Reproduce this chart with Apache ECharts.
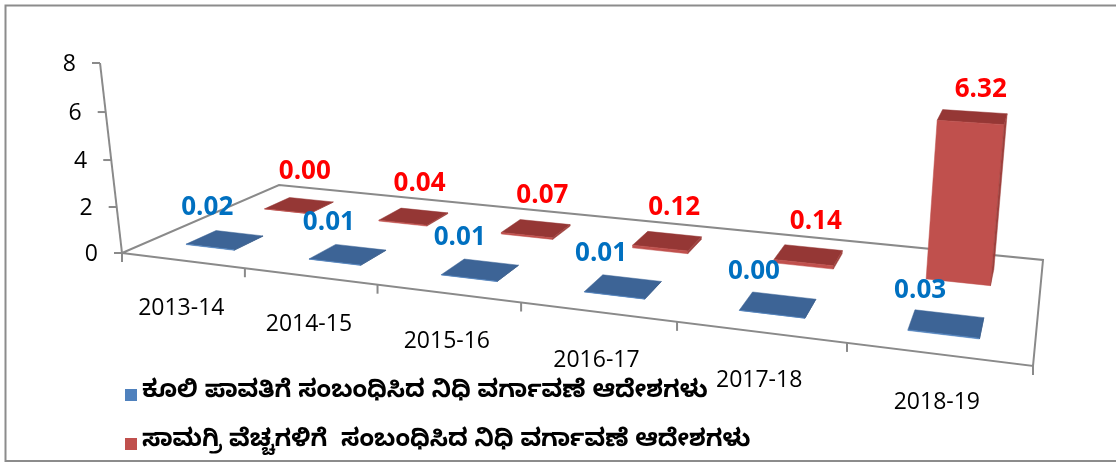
<!DOCTYPE html>
<html>
<head>
<meta charset="utf-8">
<script src="https://cdn.jsdelivr.net/npm/echarts@6/dist/echarts.min.js"></script>
<style>
    html, body { margin: 0; padding: 0; background: #fff; }
    #chart { width: 1116px; height: 463px; }
</style>
</head>
<body>
<div id="chart"></div>
<script>
const categories = ['2013-14', '2014-15', '2015-16', '2016-17', '2017-18', '2018-19'];
const wageOrders = [0.02, 0.01, 0.01, 0.01, 0.00, 0.03];
const materialOrders = [0.00, 0.04, 0.07, 0.12, 0.14, 6.32];
const valueTicks = [0, 2, 4, 6, 8];
const seriesNames = [
    'ಕೂಲಿ ಪಾವತಿಗೆ ಸಂಬಂಧಿಸಿದ ನಿಧಿ ವರ್ಗಾವಣೆ ಆದೇಶಗಳು',
    'ಸಾಮಗ್ರಿ ವೆಚ್ಚಗಳಿಗೆ  ಸಂಬಂಧಿಸಿದ ನಿಧಿ ವರ್ಗಾವಣೆ ಆದೇಶಗಳು'
];

// --- fake 3D view: floor quad on screen (front-left, front-right, back-right, back-left)
const FLOOR = [[122, 253], [1033, 366], [1043, 260], [279, 185]];
const DEPTH = 2;              // floor depth in world units, one unit per series row
const VERT_VP = [625, 4600];  // vanishing point of the vertical edges
const AXIS_TOP_Y = 63;        // screen y of the top of the value axis
const VALUE_MAX = 8;
const GRAY = '#8a8a8a';
const TEXT_FONT = '"Open Sans", "Liberation Sans", sans-serif';

function makeHomography(q) {
    const sx = q[0][0] - q[1][0] + q[2][0] - q[3][0];
    const sy = q[0][1] - q[1][1] + q[2][1] - q[3][1];
    const dx1 = q[1][0] - q[2][0], dx2 = q[3][0] - q[2][0];
    const dy1 = q[1][1] - q[2][1], dy2 = q[3][1] - q[2][1];
    const det = dx1 * dy2 - dx2 * dy1;
    const g = (sx * dy2 - dx2 * sy) / det;
    const h = (dx1 * sy - sx * dy1) / det;
    return {
        a: q[1][0] - q[0][0] + g * q[1][0],
        b: q[3][0] - q[0][0] + h * q[3][0],
        c: q[0][0],
        d: q[1][1] - q[0][1] + g * q[1][1],
        e: q[3][1] - q[0][1] + h * q[3][1],
        f: q[0][1],
        g: g,
        h: h
    };
}

const H = makeHomography(FLOOR);
const LAMBDA = (AXIS_TOP_Y - FLOOR[0][1]) / (VALUE_MAX * (VERT_VP[1] - AXIS_TOP_Y));

// world: x along categories (0..n), y depth (0 front .. DEPTH back), z value
function project(x, y, z) {
    const u = x / categories.length;
    const v = y / DEPTH;
    const k = z * LAMBDA;
    const w = H.g * u + H.h * v + 1 + k;
    return [
        (H.a * u + H.b * v + H.c + k * VERT_VP[0]) / w,
        (H.d * u + H.e * v + H.f + k * VERT_VP[1]) / w
    ];
}

function signedArea(pts) {
    let s = 0;
    for (let i = 0; i < pts.length; i++) {
        const p = pts[i], q = pts[(i + 1) % pts.length];
        s += p[0] * q[1] - q[0] * p[1];
    }
    return s;
}

// read world position of a data item through the (hidden) cartesian scales
function toWorld(api, idx, val) {
    const base = api.coord([idx, 0]);
    const top = api.coord([idx, val]);
    const band = api.size([1, 0])[0];
    const unit = api.size([0, 1])[1];
    return { x: base[0] / band, z: (base[1] - top[1]) / unit };
}

function barRenderer(row, colors, labelShift, labelLift) {
    return function (params, api) {
        const w = toWorld(api, api.value(0), api.value(1));
        const x0 = w.x - 0.2, x1 = w.x + 0.2;
        const y0 = row - 0.18, y1 = row + 0.18;
        const z = Math.max(w.z, 0.004);
        const faces = [
            { pts: [[x0, y0, z], [x1, y0, z], [x1, y1, z], [x0, y1, z]], fill: colors.top },
            { pts: [[x0, y0, 0], [x1, y0, 0], [x1, y0, z], [x0, y0, z]], fill: colors.front },
            { pts: [[x1, y0, 0], [x1, y1, 0], [x1, y1, z], [x1, y0, z]], fill: colors.side },
            { pts: [[x0, y1, 0], [x0, y0, 0], [x0, y0, z], [x0, y1, z]], fill: colors.side }
        ];
        const ref = Math.sign(signedArea(faces[0].pts.map(p => project(p[0], p[1], p[2]))));
        const children = [];
        faces.forEach(function (face, i) {
            const pts = face.pts.map(p => project(p[0], p[1], p[2]));
            if (i > 0 && Math.sign(signedArea(pts)) !== ref) return;
            children.push({
                type: 'polygon',
                shape: { points: pts },
                style: { fill: face.fill, stroke: face.fill, lineWidth: 0.5 }
            });
        });
        const anchor = project(w.x + labelShift, row, w.z);
        // tall bars get their label a little closer to the top face
        const lift = w.z > 1 ? labelLift - 6 : labelLift;
        children.push({
            type: 'text',
            x: anchor[0],
            y: anchor[1] - lift,
            style: {
                text: api.value(1).toFixed(2),
                fill: colors.label,
                fontSize: 26,
                fontWeight: 'bold',
                fontFamily: TEXT_FONT,
                align: 'center',
                verticalAlign: 'middle'
            }
        });
        return { type: 'group', children: children };
    };
}

function axisRenderer(params, api) {
    const n = categories.length;
    const children = [];
    const line = (p, q, width) => ({
        type: 'line',
        shape: { x1: p[0], y1: p[1], x2: q[0], y2: q[1] },
        style: { stroke: GRAY, lineWidth: width || 2 }
    });

    // floor outline
    const corners = [project(0, 0, 0), project(n, 0, 0), project(n, DEPTH, 0), project(0, DEPTH, 0)];
    children.push({
        type: 'polygon',
        shape: { points: corners },
        style: { fill: 'none', stroke: GRAY, lineWidth: 2 }
    });

    // category ticks and labels along the front edge
    for (let i = 0; i <= n; i++) {
        const p = project(i, 0, 0);
        children.push(line(p, [p[0], p[1] + 9]));
    }
    categories.forEach(function (name, i) {
        const w = toWorld(api, i, 0);
        const p = project(w.x, 0, 0);
        children.push({
            type: 'text',
            x: p[0] - 1,
            y: p[1] + 48,
            style: {
                text: name, fill: '#000', fontSize: 23, fontFamily: TEXT_FONT,
                align: 'center', verticalAlign: 'middle'
            }
        });
    });

    // value axis
    children.push(line(project(0, 0, 0), project(0, 0, VALUE_MAX)));
    valueTicks.forEach(function (t) {
        const z = toWorld(api, 0, t).z;
        const p = project(0, 0, z);
        children.push(line([p[0] - 8, p[1]], p));
        children.push({
            type: 'text',
            x: p[0] - 24,
            y: p[1] + 1,
            style: {
                text: String(t), fill: '#000', fontSize: 23, fontFamily: TEXT_FONT,
                align: 'right', verticalAlign: 'middle'
            }
        });
    });
    return { type: 'group', children: children };
}

const chart = echarts.init(document.getElementById('chart'));

chart.setOption({
    animation: false,
    backgroundColor: '#fff',
    graphic: [{
        type: 'rect',
        x: 5.5, y: 5.5,
        shape: { x: 0, y: 0, width: 1300, height: 455.5 },
        style: { fill: 'none', stroke: '#8c8c8c', lineWidth: 2 },
        silent: true
    }],
    // hidden cartesian system: one band per category, 100px per value unit
    grid: { left: 0, top: 0, width: 600, height: 800, show: false },
    xAxis: { type: 'category', data: categories, show: false },
    yAxis: { type: 'value', min: 0, max: VALUE_MAX, show: false },
    legend: {
        data: seriesNames,
        orient: 'vertical',
        left: 120,
        top: 377,
        icon: 'rect',
        itemWidth: 12,
        itemHeight: 12,
        itemGap: 23,
        selectedMode: false,
        textStyle: {
            fontSize: 24,
            fontWeight: 'bold',
            color: '#000',
            lineHeight: 26,
            fontFamily: '"Noto Sans Kannada", "Noto Sans", sans-serif'
        }
    },
    series: [
        {
            name: 'axis',
            type: 'custom',
            z: 1,
            silent: true,
            data: [[0, 0]],
            renderItem: axisRenderer
        },
        {
            name: seriesNames[1],
            type: 'custom',
            z: 2,
            itemStyle: { color: '#C0504D' },
            data: materialOrders.map((v, i) => [i, v]),
            encode: { x: 0, y: 1 },
            renderItem: barRenderer(1.5, {
                top: '#953735', front: '#C0504D', side: '#9E403D', label: '#FF0000'
            }, 0.05, 34)
        },
        {
            name: seriesNames[0],
            type: 'custom',
            z: 3,
            itemStyle: { color: '#4F81BD' },
            data: wageOrders.map((v, i) => [i, v]),
            encode: { x: 0, y: 1 },
            renderItem: barRenderer(0.5, {
                top: '#3D6496', front: '#4F81BD', side: '#375B89', label: '#0070C0'
            }, -0.15, 30)
        }
    ]
});
</script>
</body>
</html>
